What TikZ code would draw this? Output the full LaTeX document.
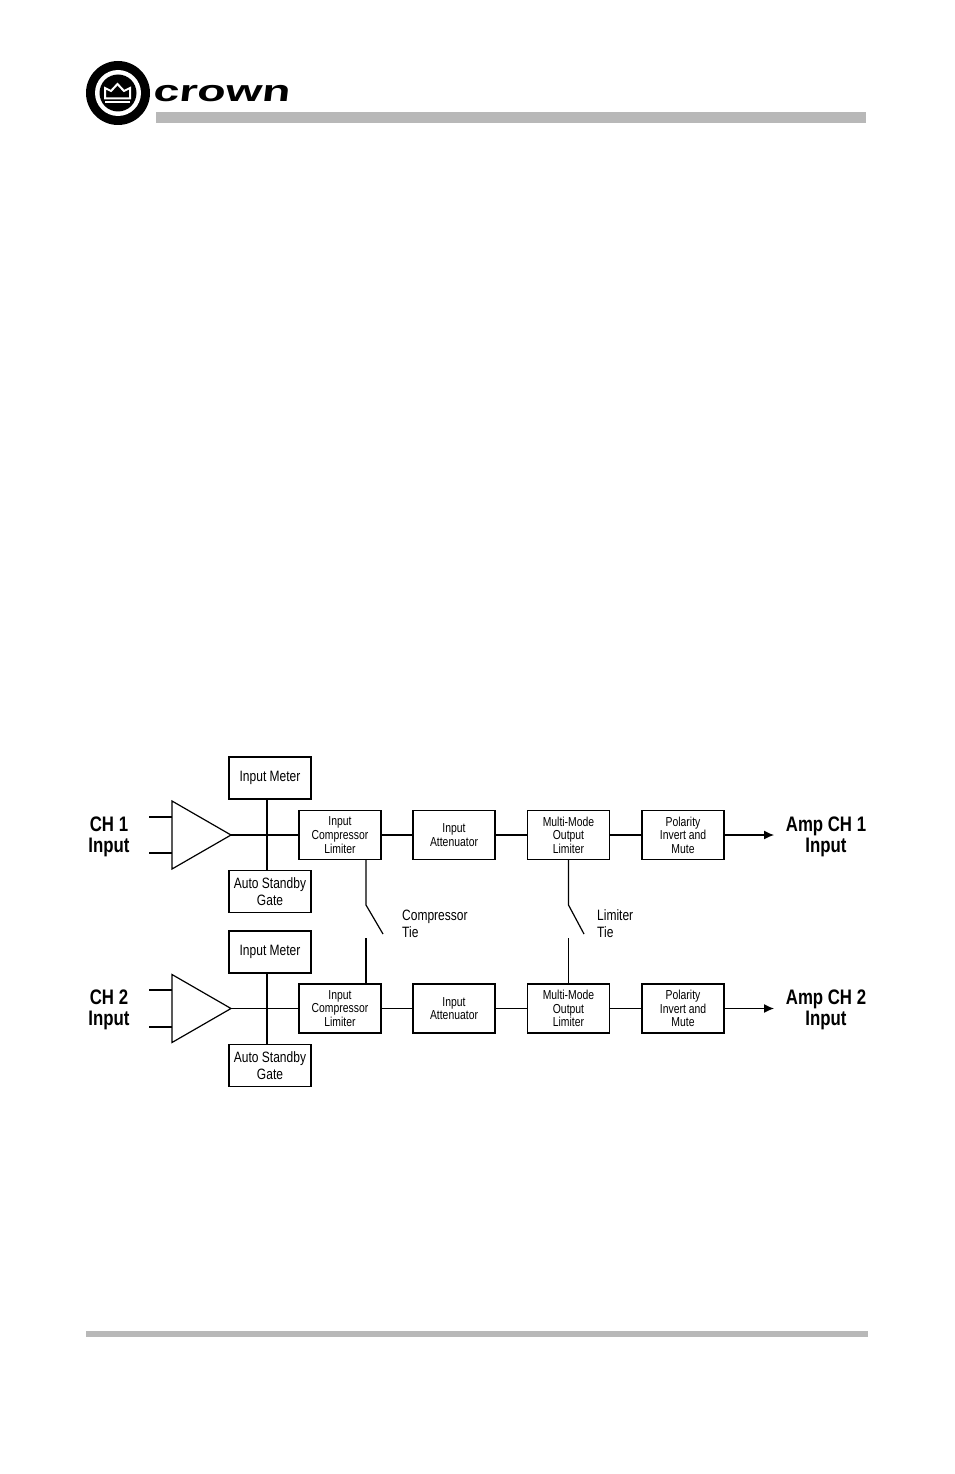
\documentclass[tikz,border=0pt]{standalone}
\usepackage{fontspec}
\setmainfont[FakeStretch=0.8]{Liberation Sans}
\newfontfamily\logofont[FakeStretch=1.55,FakeSlant=0.12]{Liberation Sans}
\usetikzlibrary{arrows.meta,calc,shapes.geometric}
\definecolor{rulegray}{HTML}{B8B8B8}
\begin{document}
\begin{tikzpicture}[x=1pt,y=-1pt,
  every node/.style={font=\fontsize{13}{13.6}\selectfont},
  blk/.style={draw=black,line width=1.2pt,align=center,inner sep=0pt,minimum width=82pt,minimum height=49pt},
  side/.style={draw=black,line width=1.7pt,align=center,inner sep=0pt,minimum width=82pt,minimum height=42pt,font=\fontsize{15}{16.8}\selectfont},
  amp/.style={draw=black,line width=1.2pt,isosceles triangle,isosceles triangle stretches,inner sep=0pt,outer sep=0pt,minimum width=68pt,minimum height=59pt,anchor=apex},
  lbl/.style={align=center,font=\fontsize{21}{21}\selectfont\bfseries},
  tie/.style={align=left,anchor=west,inner sep=0pt,font=\fontsize{15}{17}\selectfont},
  ln/.style={line width=1.2pt},
  ar/.style={-{Latex[length=10pt,width=9pt]},line width=1.2pt},
  bar/.style={fill=rulegray,draw=none,inner sep=0pt}]
\useasboundingbox (0,0) rectangle (954,1474);
% header
\node[bar,minimum width=710pt,minimum height=11pt] (topbar) at (511,117.5) {};
\node[bar,minimum width=782pt,minimum height=6pt] (botbar) at (477,1334) {};
\fill[black] (118,93) circle (32);
\fill[white] (118,93) circle (23);
\fill[black] (118,93) circle (18.5);
\draw[white,line width=2pt,line join=miter] (105,98.5) -- (105,88) -- (111,91) -- (117.5,84) -- (124,91) -- (130,88) -- (130,98.5) -- cycle;
\fill[white] (105,101) rectangle (130,103.5);
\node[inner sep=0pt,font=\fontsize{30}{30}\logofont\bfseries] (brand) at (221,93.5) {crown};
% channel 1
\node[lbl] (in1) at (109,836.5) {CH 1\\Input};
\node[amp] (amp1) at (231,835) {};
\coordinate (in1a) at (149,817);
\coordinate (in1b) at (149,853);
\coordinate (jn1) at (267,835);
\coordinate (arr1) at (774,835);
\node[side] (mt1) at (270,778) {\raisebox{-1.5pt}{Input Meter}};
\node[side] (gt1) at (270,891.5) {\raisebox{-1.5pt}{Auto Standby}\\\raisebox{-1.5pt}{Gate}};
\node[blk] (cl1) at (340,835) {Input\\Compressor\\Limiter};
\node[blk] (at1) at (454,835) {Input\\Attenuator};
\node[blk] (ml1) at (568.5,835) {Multi-Mode\\Output\\Limiter};
\node[blk] (pi1) at (683,835) {Polarity\\Invert and\\Mute};
\node[lbl] (out1) at (826,836.5) {Amp CH 1\\Input};
\draw[ln] (in1a) -- (in1a -| amp1.lower side);
\draw[ln] (in1b) -- (in1b -| amp1.lower side);
\draw[ln] (amp1.apex) -- (cl1);
\draw[ln] (mt1.south -| jn1) -- (gt1.north -| jn1);
\draw[ln] (cl1) -- (at1);
\draw[ln] (at1) -- (ml1);
\draw[ln] (ml1) -- (pi1);
\draw[ar] (pi1) -- (arr1);
% channel 2
\node[lbl] (in2) at (109,1010) {CH 2\\Input};
\node[amp] (amp2) at (231,1008.5) {};
\coordinate (in2a) at (149,990);
\coordinate (in2b) at (149,1027);
\coordinate (jn2) at (267,1008.5);
\coordinate (arr2) at (774,1008.5);
\node[side] (mt2) at (270,952) {\raisebox{-1.5pt}{Input Meter}};
\node[side] (gt2) at (270,1065.5) {\raisebox{-1.5pt}{Auto Standby}\\\raisebox{-1.5pt}{Gate}};
\node[blk] (cl2) at (340,1008.5) {Input\\Compressor\\Limiter};
\node[blk] (at2) at (454,1008.5) {Input\\Attenuator};
\node[blk] (ml2) at (568.5,1008.5) {Multi-Mode\\Output\\Limiter};
\node[blk] (pi2) at (683,1008.5) {Polarity\\Invert and\\Mute};
\node[lbl] (out2) at (826,1010) {Amp CH 2\\Input};
\draw[ln] (in2a) -- (in2a -| amp2.lower side);
\draw[ln,line width=1.8pt] (in2b) -- (in2b -| amp2.lower side);
\draw[ln] (amp2.apex) -- (cl2);
\draw[ln] (mt2.south -| jn2) -- (gt2.north -| jn2);
\draw[ln] (cl2) -- (at2);
\draw[ln] (at2) -- (ml2);
\draw[ln] (ml2) -- (pi2);
\draw[ar] (pi2) -- (arr2);
% ties
\coordinate (ct1) at (366,905);
\coordinate (ct2) at (383,934);
\coordinate (ct3) at (366,938);
\coordinate (lt1) at (568.5,905);
\coordinate (lt2) at (584,934);
\coordinate (lt3) at (568.5,938);
\draw[ln] (cl1.south -| ct1) -- (ct1) -- (ct2);
\draw[ln] (ct3) -- (cl2.north -| ct3);
\draw[ln] (ml1.south -| lt1) -- (lt1) -- (lt2);
\draw[ln] (lt3) -- (ml2.north -| lt3);
\node[tie] (ctl) at (402,924) {Compressor\\Tie};
\node[tie] (ltl) at (597,924) {Limiter\\Tie};
\end{tikzpicture}
\end{document}
